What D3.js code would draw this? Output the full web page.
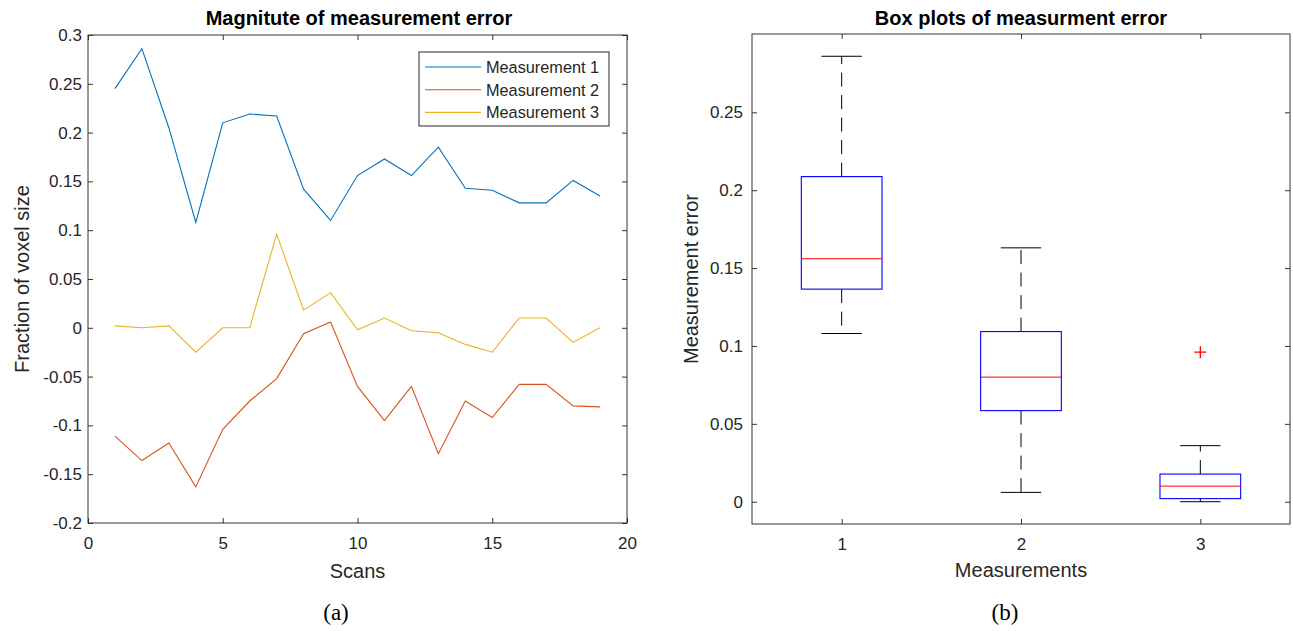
<!DOCTYPE html>
<html>
<head>
<meta charset="utf-8">
<script src="https://cdn.jsdelivr.net/npm/d3@7"></script>
<style>
  body { margin: 0; background: #fff; }
  svg text { font-family: "Liberation Sans", Arial, Helvetica, sans-serif; fill: #262626; }
  .tick line { stroke: #333; }
  .caption { font-family: "Liberation Serif", "DejaVu Serif", serif !important; fill: #000 !important; }
</style>
</head>
<body>
<svg id="fig" width="1293" height="631"></svg>
<script>
// panel (a): error per scan for the three measurements
var scans = [1, 2, 3, 4, 5, 6, 7, 8, 9, 10, 11, 12, 13, 14, 15, 16, 17, 18, 19];
var meas1 = [0.245, 0.286, 0.205, 0.108, 0.210, 0.219, 0.217, 0.142, 0.110, 0.156, 0.173, 0.156, 0.185, 0.143, 0.141, 0.128, 0.128, 0.151, 0.135];
var meas2 = [-0.111, -0.136, -0.118, -0.163, -0.104, -0.075, -0.052, -0.006, 0.006, -0.060, -0.095, -0.060, -0.129, -0.075, -0.092, -0.058, -0.058, -0.080, -0.081];
var meas3 = [0.002, 0.000, 0.002, -0.025, 0.000, 0.000, 0.096, 0.018, 0.036, -0.002, 0.010, -0.003, -0.005, -0.017, -0.025, 0.010, 0.010, -0.015, 0.000];
var seriesNames = ["Measurement 1", "Measurement 2", "Measurement 3"];
var seriesColors = ["#0072bd", "#d95319", "#edb120"];
var scanTicks = [0, 5, 10, 15, 20];
var fracTicks = [-0.2, -0.15, -0.1, -0.05, 0, 0.05, 0.1, 0.15, 0.2, 0.25, 0.3];

// panel (b): box plots of the absolute errors
var boxCats = [1, 2, 3];
var errTicks = [0, 0.05, 0.1, 0.15, 0.2, 0.25];

var svg = d3.select("#fig");
svg.append("rect").attr("width", 1293).attr("height", 631).attr("fill", "#fff");

var fmt = function(d) { return String(+d.toFixed(2)); };

// box with inward ticks on all four sides
function frame(g, x, y, xt, yt, padY) {
  var r = x.range(), t = y.range();
  var L = r[0], R = r[1], B = t[0], T = t[1];
  g.append("g").attr("transform", "translate(0," + B + ")")
    .call(d3.axisBottom(x).tickValues(xt).tickFormat(fmt).tickSizeInner(-5).tickSizeOuter(0).tickPadding(14))
    .call(function(a) { a.select(".domain").remove(); });
  g.append("g").attr("transform", "translate(0," + T + ")")
    .call(d3.axisTop(x).tickValues(xt).tickFormat("").tickSizeInner(-5).tickSizeOuter(0))
    .call(function(a) { a.select(".domain").remove(); });
  g.append("g").attr("transform", "translate(" + L + ",0)")
    .call(d3.axisLeft(y).tickValues(yt).tickFormat(fmt).tickSizeInner(-5).tickSizeOuter(0).tickPadding(padY))
    .call(function(a) { a.select(".domain").remove(); });
  g.append("g").attr("transform", "translate(" + R + ",0)")
    .call(d3.axisRight(y).tickValues(yt).tickFormat("").tickSizeInner(-5).tickSizeOuter(0))
    .call(function(a) { a.select(".domain").remove(); });
  g.selectAll(".tick text").style("font-size", "17px").attr("fill", "#262626")
    .style("font-family", "'Liberation Sans', Arial, sans-serif");
  g.append("rect").attr("x", L).attr("y", T).attr("width", R - L).attr("height", B - T)
    .attr("fill", "none").attr("stroke", "#333").attr("stroke-width", 1);
}

// ---------- panel (a) ----------
var ga = svg.append("g");
var xa = d3.scaleLinear().domain([0, 20]).range([88, 627]);
var ya = d3.scaleLinear().domain([-0.2, 0.3]).range([523, 35]);

var series = [meas1, meas2, meas3];
var line = d3.line().x(function(d, i) { return xa(scans[i]); }).y(function(d) { return ya(d); });
ga.selectAll("path.series").data(series).enter().append("path")
  .attr("class", "series")
  .attr("d", line)
  .attr("fill", "none")
  .attr("stroke", function(d, i) { return seriesColors[i]; })
  .attr("stroke-width", 1.1);

frame(ga, xa, ya, scanTicks, fracTicks, 6);

ga.append("text").attr("x", 359).attr("y", 25).attr("text-anchor", "middle")
  .style("font-size", "20px").style("font-weight", "bold").style("fill", "#000")
  .text("Magnitute of measurement error");
ga.append("text").attr("x", 357.5).attr("y", 578).attr("text-anchor", "middle")
  .style("font-size", "20px").text("Scans");
ga.append("text").attr("transform", "translate(29,279) rotate(-90)").attr("text-anchor", "middle")
  .style("font-size", "20px").text("Fraction of voxel size");

// legend
var lg = ga.append("g");
lg.append("rect").attr("x", 419).attr("y", 52).attr("width", 190).attr("height", 74)
  .attr("fill", "#fff").attr("stroke", "#262626").attr("stroke-width", 1);
var items = lg.selectAll("g.item").data(seriesNames).enter().append("g")
  .attr("class", "item")
  .attr("transform", function(d, i) { return "translate(0," + (67 + i * 22.7) + ")"; });
items.append("line").attr("x1", 425).attr("x2", 481).attr("y1", 0).attr("y2", 0)
  .attr("stroke", function(d, i) { return seriesColors[i]; }).attr("stroke-width", 1.1);
items.append("text").attr("x", 486).attr("y", 6).style("font-size", "16.3px").text(function(d) { return d; });

// ---------- panel (b) ----------
var gb = svg.append("g");
var absVals = series.map(function(s) { return s.map(Math.abs).sort(d3.ascending); });
var allAbs = d3.merge(absVals);
var lo = d3.min(allAbs), hi = d3.max(allAbs), pad = 0.05 * (hi - lo);
var xb = d3.scaleLinear().domain([0.5, 3.5]).range([752, 1290]);
var yb = d3.scaleLinear().domain([lo - pad, hi + pad]).range([524, 34]);

// matlab-style quantile
function mquant(s, p) {
  var n = s.length, pos = n * p + 0.5;
  if (pos < 1) return s[0];
  if (pos >= n) return s[n - 1];
  var i = Math.floor(pos);
  return s[i - 1] + (pos - i) * (s[i] - s[i - 1]);
}
var stats = absVals.map(function(s, k) {
  var q1 = mquant(s, 0.25), med = mquant(s, 0.5), q3 = mquant(s, 0.75), iqr = q3 - q1;
  var inside = s.filter(function(v) { return v >= q1 - 1.5 * iqr && v <= q3 + 1.5 * iqr; });
  return {
    cat: boxCats[k], q1: q1, med: med, q3: q3,
    wlo: d3.min(inside), whi: d3.max(inside),
    out: s.filter(function(v) { return v < q1 - 1.5 * iqr || v > q3 + 1.5 * iqr; })
  };
});

var bw = 0.45; // box width in category units
var bx = gb.selectAll("g.box").data(stats).enter().append("g").attr("class", "box");
// whiskers
bx.append("line").attr("x1", function(d) { return xb(d.cat); }).attr("x2", function(d) { return xb(d.cat); })
  .attr("y1", function(d) { return yb(d.q3); }).attr("y2", function(d) { return yb(d.whi); })
  .attr("stroke", "#000").attr("stroke-dasharray", "14,8.5");
bx.append("line").attr("x1", function(d) { return xb(d.cat); }).attr("x2", function(d) { return xb(d.cat); })
  .attr("y1", function(d) { return yb(d.q1); }).attr("y2", function(d) { return yb(d.wlo); })
  .attr("stroke", "#000").attr("stroke-dasharray", "14,8.5");
// caps
["whi", "wlo"].forEach(function(key) {
  bx.append("line")
    .attr("x1", function(d) { return xb(d.cat - bw / 4); }).attr("x2", function(d) { return xb(d.cat + bw / 4); })
    .attr("y1", function(d) { return yb(d[key]); }).attr("y2", function(d) { return yb(d[key]); })
    .attr("stroke", "#000");
});
// boxes
bx.append("rect")
  .attr("x", function(d) { return xb(d.cat - bw / 2); })
  .attr("width", xb(bw) - xb(0))
  .attr("y", function(d) { return yb(d.q3); })
  .attr("height", function(d) { return yb(d.q1) - yb(d.q3); })
  .attr("fill", "none").attr("stroke", "#0000ff").attr("stroke-width", 1.1);
// medians
bx.append("line")
  .attr("x1", function(d) { return xb(d.cat - bw / 2); }).attr("x2", function(d) { return xb(d.cat + bw / 2); })
  .attr("y1", function(d) { return yb(d.med); }).attr("y2", function(d) { return yb(d.med); })
  .attr("stroke", "#ff0000");
// outliers
bx.each(function(d) {
  var g = d3.select(this);
  d.out.forEach(function(v) {
    var cx = xb(d.cat), cy = yb(v);
    g.append("path").attr("d", "M" + (cx - 6) + "," + cy + "H" + (cx + 6) + "M" + cx + "," + (cy - 6) + "V" + (cy + 6))
      .attr("stroke", "#ff0000").attr("stroke-width", 1.3);
  });
});

frame(gb, xb, yb, boxCats, errTicks, 9);

gb.append("text").attr("x", 1021).attr("y", 25).attr("text-anchor", "middle")
  .style("font-size", "20px").style("font-weight", "bold").style("fill", "#000")
  .text("Box plots of measurment error");
gb.append("text").attr("x", 1021).attr("y", 577).attr("text-anchor", "middle")
  .style("font-size", "20px").text("Measurements");
gb.append("text").attr("transform", "translate(698,279) rotate(-90)").attr("text-anchor", "middle")
  .style("font-size", "20px").text("Measurement error");

// subfigure captions
svg.append("text").attr("class", "caption").attr("x", 336).attr("y", 620).attr("text-anchor", "middle")
  .style("font-size", "23px").text("(a)");
svg.append("text").attr("class", "caption").attr("x", 1005).attr("y", 620).attr("text-anchor", "middle")
  .style("font-size", "23px").text("(b)");
</script>
</body>
</html>
